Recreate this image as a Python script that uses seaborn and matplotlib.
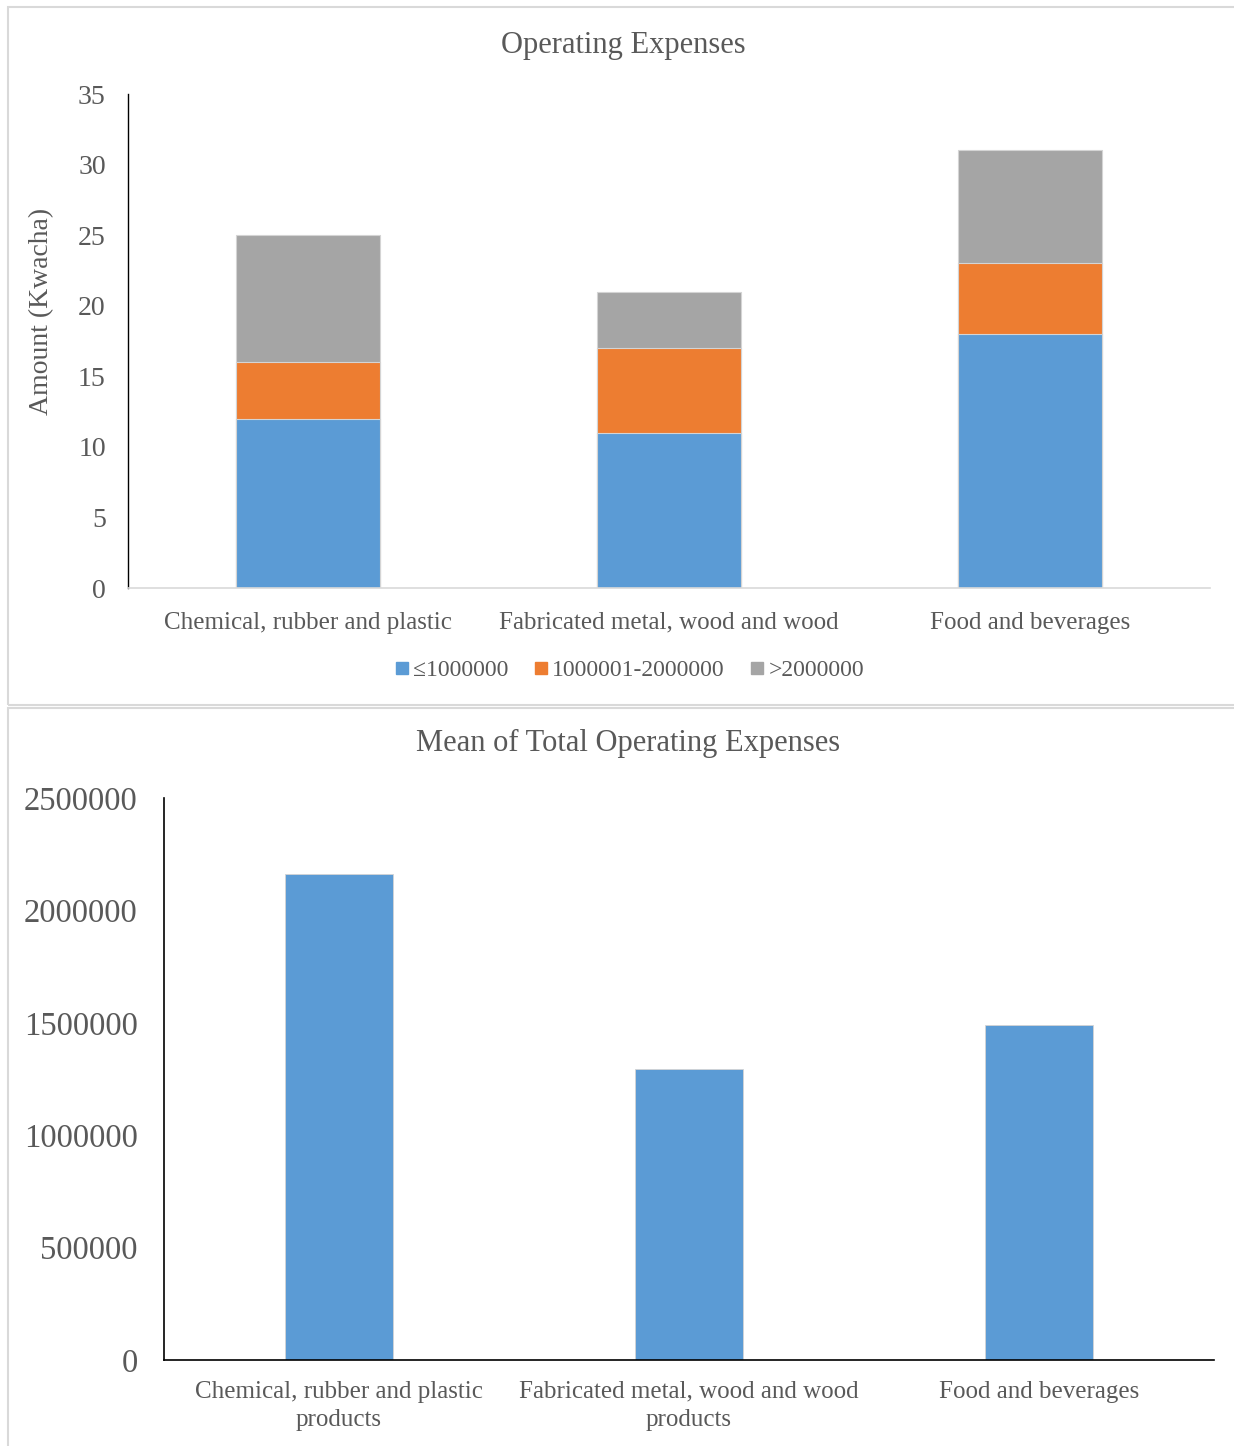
import matplotlib
matplotlib.use("Agg")
import matplotlib.pyplot as plt
from matplotlib.patches import Rectangle
from matplotlib.lines import Line2D
import seaborn as sns
import pandas as pd

# Operating expense bands by industry (number of firms)
industries_short = ["Chemical, rubber and plastic", "Fabricated metal, wood and wood", "Food and beverages"]
band_labels = ["\u22641000000", "1000001-2000000", ">2000000"]
band_low = [12, 11, 18]
band_mid = [4, 6, 5]
band_high = [9, 4, 8]

# Mean total operating expenses by industry
industries_full = ["Chemical, rubber and plastic\nproducts", "Fabricated metal, wood and wood\nproducts", "Food and beverages"]
mean_expenses = [2160000, 1295000, 1490000]

band_colors = ["#5B9BD5", "#ED7D31", "#A5A5A5"]
text_gray = "#595959"

sns.set_theme(style="white")
plt.rcParams["font.family"] = ["Liberation Serif", "DejaVu Serif"]

W, H = 1234, 1446
fig = plt.figure(figsize=(W / 100, H / 100), dpi=100)

# chart-area frames
fig.patches.append(Rectangle((8 / W, 1 - 705 / H), 1.0, (705 - 7) / H,
                             transform=fig.transFigure, fill=False, edgecolor="#d9d9d9", lw=1.5))
fig.patches.append(Rectangle((8 / W, -0.01), 1.0, 1 - 708 / H + 0.01,
                             transform=fig.transFigure, fill=False, edgecolor="#d9d9d9", lw=1.5))

# ---- stacked bars ----
ax1 = fig.add_axes([128 / W, 1 - 588 / H, (1210 - 128) / W, (588 - 94) / H])
df = pd.DataFrame({"industry": industries_short, "low": band_low, "mid": band_mid, "high": band_high})
df["c1"] = df["low"]
df["c2"] = df["low"] + df["mid"]
df["c3"] = df["c2"] + df["high"]
for col, color in zip(["c3", "c2", "c1"], band_colors[::-1]):
    sns.barplot(data=df, x="industry", y=col, color=color, width=0.4, ax=ax1,
                edgecolor="#d4d4d4", linewidth=0.8, saturation=1)
ax1.set_xlim(-0.5, 2.5)
ax1.set_ylim(0, 35)
ax1.set_yticks(range(0, 36, 5))
ax1.set_xlabel("")
ax1.set_ylabel("")
ax1.tick_params(axis="both", length=0, labelcolor=text_gray)
ax1.tick_params(axis="x", labelsize=18, pad=17)
ax1.tick_params(axis="y", labelsize=20, pad=16)
for s in ["top", "right"]:
    ax1.spines[s].set_visible(False)
ax1.spines["left"].set_color("#000000")
ax1.spines["left"].set_linewidth(1.0)
ax1.spines["bottom"].set_color("#d9d9d9")
ax1.spines["bottom"].set_linewidth(1.2)

fig.text(623 / W, 1 - 45 / H, "Operating Expenses", fontsize=22, color=text_gray,
         ha="center", va="center")
fig.text(42 / W, 1 - 311 / H, "Amount (Kwacha)", fontsize=20, color=text_gray,
         ha="center", va="center", rotation=90)

handles = [Line2D([], [], marker="s", linestyle="", markersize=9, color=c) for c in band_colors]
fig.legend(handles, band_labels, loc="center", bbox_to_anchor=(627 / W, 1 - 670 / H),
           ncol=3, frameon=False, fontsize=17, labelcolor=text_gray,
           handletextpad=0.0, columnspacing=0.85, handlelength=1.0)

# ---- mean bars ----
ax2 = fig.add_axes([164 / W, 1 - 1360 / H, (1214 - 164) / W, (1360 - 798) / H])
df2 = pd.DataFrame({"industry": industries_full, "mean": mean_expenses})
sns.barplot(data=df2, x="industry", y="mean", color=band_colors[0], width=0.31, ax=ax2,
            edgecolor="#d4d4d4", linewidth=0.6, saturation=1)
ax2.set_xlim(-0.5, 2.5)
ax2.set_ylim(0, 2500000)
ax2.set_yticks(range(0, 2500001, 500000))
ax2.set_yticklabels([str(v) for v in range(0, 2500001, 500000)])
ax2.set_xlabel("")
ax2.set_ylabel("")
ax2.tick_params(axis="y", length=0, labelsize=23.5, labelcolor=text_gray, pad=19)
ax2.tick_params(axis="x", length=0, labelsize=18, labelcolor=text_gray, pad=15)
for lbl in ax2.get_xticklabels():
    lbl.set_linespacing(1.35)
for s in ["top", "right"]:
    ax2.spines[s].set_visible(False)
for s in ["left", "bottom"]:
    ax2.spines[s].set_color("#000000")
    ax2.spines[s].set_linewidth(1.2)

fig.text(628 / W, 1 - 743 / H, "Mean of Total Operating Expenses", fontsize=22, color=text_gray,
         ha="center", va="center")

fig.savefig("out.png", dpi=100)
